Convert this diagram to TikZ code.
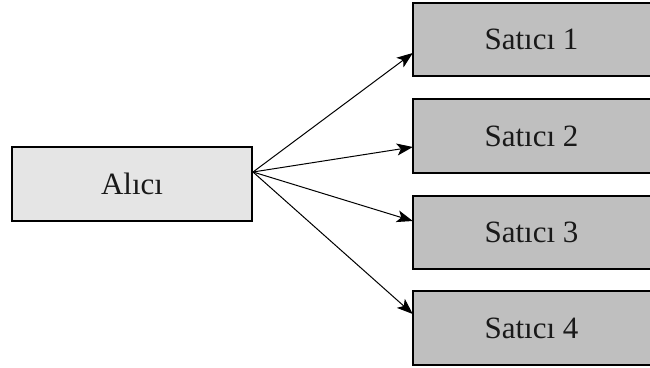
\documentclass[tikz,border=0pt]{standalone}
\usepackage{fontspec}
\setmainfont{Liberation Serif}
\usetikzlibrary{arrows.meta}
\begin{document}
\begin{tikzpicture}[x=1pt,y=-1pt,
  lbl/.style={font=\fontsize{31}{37}\selectfont, text=black!90},
  buyer/.style={rectangle, draw=black, line width=2pt, fill=black!10, minimum width=240pt, minimum height=74pt, inner sep=0pt, lbl},
  seller/.style={rectangle, fill=black!25, minimum width=237pt, minimum height=73pt, inner sep=0pt, lbl},
  sellerframe/.style={draw=black, line width=2pt, line cap=rect},
  conn/.style={line width=1pt, -{Stealth[length=16pt,width=12pt,inset=4pt]}}]
\useasboundingbox (0,0) rectangle (650,367);
\node[buyer] (a) at (132,184) {Alıcı};
\node[seller] (s1) at (531.5,39.5) {Satıcı 1};
\node[seller] (s2) at (531.5,136) {Satıcı 2};
\node[seller] (s3) at (531.5,232.5) {Satıcı 3};
\node[seller] (s4) at (531.5,328) {Satıcı 4};
\foreach \s in {s1,s2,s3,s4}{
  \draw[sellerframe] (\s.north east) -- (\s.north west) -- (\s.south west) -- (\s.south east);
}
\coordinate (src) at ([yshift=12pt]a.east);
\draw[conn] (src) -- ([yshift=-13.5pt]s1.west);
\draw[conn] (src) -- ([yshift=-11pt]s2.west);
\draw[conn] (src) -- ([yshift=11.5pt]s3.west);
\draw[conn] (src) -- ([yshift=14pt]s4.west);
\end{tikzpicture}
\end{document}
